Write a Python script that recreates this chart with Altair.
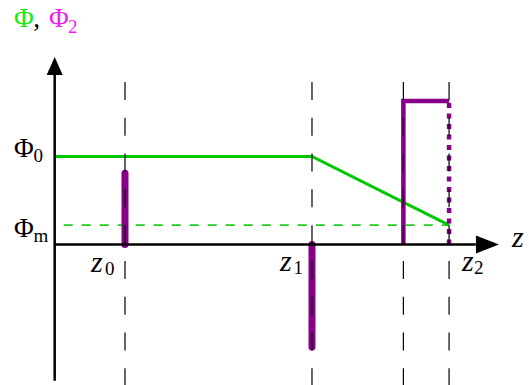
import altair as alt
import pandas as pd

# positions along z
z_names = ["z0", "z1", "z3", "z2"]
z_pos = [1.0, 3.66, 4.96, 5.61]

# potential levels
phi0 = 1.0
phi_m = 0.22

# Φ(z): flat at Φ0 up to z1, then falls linearly to Φm at z2
phi_z = [0.0, 3.66, 5.61]
phi_v = [1.0, 1.0, 0.22]

# Φ2: delta-like spikes at z0 and z1
spike_z = [1.0, 3.66]
spike_v = [0.81, -1.165]

# Φ2: rectangular pulse between z3 and z2
pulse_z = [4.96, 4.96, 5.61]
pulse_v = [0.0, 1.63, 1.63]
pulse_edge_v = [1.63, 0.0]

# axis extents (arrow tips)
axis_z = [0.0, 6.32]
axis_v = [-1.55, 2.13]
guide_top, guide_bottom = 1.847, -1.6

W, H = 529, 385
xs = alt.Scale(domain=[-0.778, 6.747], nice=False, zero=False)
ys = alt.Scale(domain=[-1.597, 2.778], nice=False, zero=False)
X = alt.X("z:Q", scale=xs, axis=None)
Y = alt.Y("v:Q", scale=ys, axis=None)

FONT = "'Liberation Serif', 'DejaVu Serif', serif"
BIG, SMALL, ZSIZE = 27, 19, 30
GREEN = "#00C800"
PURPLE = "#880088"


def df(**cols):
    return pd.DataFrame(cols)


def label(text, z, v, dx, dy, size=BIG, color="black", italic=False):
    return alt.Chart(df(z=[z], v=[v])).mark_text(
        text=text, align="left", baseline="alphabetic", dx=dx, dy=dy,
        font=FONT, fontSize=size, color=color,
        fontStyle="italic" if italic else "normal",
    ).encode(x=X, y=Y)


# coordinate axes
y_axis = alt.Chart(df(z=[0.0, 0.0], v=[axis_v[0], 1.95])).mark_line(
    color="black", strokeWidth=2.5).encode(x=X, y=Y)
x_axis = alt.Chart(df(z=[0.0, 5.99], v=[0.0, 0.0])).mark_line(
    color="black", strokeWidth=2.5).encode(x=X, y=Y)
arrow_up = alt.Chart(df(z=[0.0], v=[axis_v[1]])).mark_point(
    shape="M0,0 L0.67,1.5 L-0.67,1.5 Z", size=576, filled=True,
    opacity=1, color="black", strokeWidth=0).encode(x=X, y=Y)
arrow_right = alt.Chart(df(z=[axis_z[1]], v=[0.0])).mark_point(
    shape="M0,0 L-1.92,-0.75 L-1.92,0.75 Z", size=576, filled=True,
    opacity=1, color="black", strokeWidth=0).encode(x=X, y=Y)

# Φ curve and Φm reference level
phi_line = alt.Chart(df(z=phi_z, v=phi_v)).mark_line(
    color=GREEN, strokeWidth=3).encode(x=X, y=Y)
phi_m_line = alt.Chart(df(z=[0.0, z_pos[3]], v=[phi_m, phi_m])).mark_line(
    color="#22CC22", strokeWidth=1.6, strokeDash=[9, 9], strokeDashOffset=9
).encode(x=X, y=Y)

# Φ2 spikes and pulse
spikes = alt.Chart(df(z=spike_z, v0=[0.0, 0.0], v=spike_v)).mark_rule(
    color=PURPLE, strokeWidth=7, strokeCap="round"
).encode(x=X, y=alt.Y("v0:Q", scale=ys, axis=None), y2="v:Q")
pulse = alt.Chart(df(z=pulse_z, v=pulse_v, i=[0, 1, 2])).mark_line(
    color=PURPLE, strokeWidth=4.5, strokeJoin="miter", strokeCap="butt"
).encode(x=X, y=Y, order="i:O")
pulse_edge = alt.Chart(df(z=[z_pos[3]], v=[pulse_edge_v[0]], v2=[pulse_edge_v[1]])).mark_rule(
    color=PURPLE, strokeWidth=4.5, strokeDash=[5, 5.5], strokeDashOffset=8.5
).encode(x=X, y=Y, y2="v2:Q")

# dashed guides at the z positions
guides = alt.Chart(df(z=z_pos, v=[guide_top] * 4, v2=[guide_bottom] * 4)).mark_rule(
    color="black", strokeWidth=1.2, strokeDash=[18, 17.8]
).encode(x=X, y=Y, y2="v2:Q")

texts = [
    # title Φ, Φ2
    label("Φ", 0.0, axis_v[1], -40.7, -30, color="#11EE11"),
    label(",", 0.0, axis_v[1], -21.5, -30),
    label("Φ", 0.0, axis_v[1], -5.7, -30, color="#EE22EE"),
    label("2", 0.0, axis_v[1], 13.3, -24, size=SMALL, color="#EE22EE"),
    # level labels
    label("Φ", 0.0, phi0, -40.7, 0.5),
    label("0", 0.0, phi0, -21.2, 5.5, size=SMALL),
    label("Φ", 0.0, phi_m, -40.7, 11.9),
    label("m", 0.0, phi_m, -21.2, 16.5, size=SMALL),
    # z labels
    label("z", z_pos[0], 0.0, -34, 27.5, size=ZSIZE, italic=True),
    label("0", z_pos[0], 0.0, -20, 30.5, size=SMALL),
    label("z", z_pos[1], 0.0, -32, 26.5, size=ZSIZE, italic=True),
    label("1", z_pos[1], 0.0, -18.5, 29.5, size=SMALL),
    label("z", z_pos[3], 0.0, 13, 26.5, size=ZSIZE, italic=True),
    label("2", z_pos[3], 0.0, 25, 29.5, size=SMALL),
    label("z", axis_z[1], 0.0, 13, 2.5, size=ZSIZE, italic=True),
]

chart = alt.layer(
    phi_m_line, phi_line, spikes, pulse, pulse_edge, guides,
    y_axis, x_axis, arrow_up, arrow_right, *texts
).properties(
    width=W, height=H, padding=0, autosize=alt.AutoSizeParams(type="none"),
    background="white",
).configure_view(stroke=None)

chart.save("out.html", embed_options={"renderer": "svg", "actions": False})
